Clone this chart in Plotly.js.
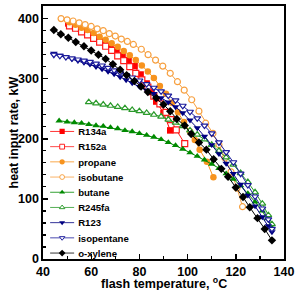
<!DOCTYPE html>
<html><head><meta charset="utf-8">
<script src="https://cdn.plot.ly/plotly-3.0.1.min.js"></script>
<style>html,body{margin:0;padding:0;background:#fff}#c{width:298px;height:290px}</style>
</head><body><div id="c"></div>
<script>
// Flash temperature (°C) and heat input rate (kW) for each working fluid
const r134a_T = [50.5,53,55.5,58,60.5,63,65.5,68,70.5,73,75.5,78,80.5,83,85,87,90,92.8];
const r134a_Q = [392,388,384,379,374,368,362,355,347,339,331,321,307,292,278,262,243,214];
const r152a_T = [51,53.5,56,58.5,61,63.5,66,68.5,71,73.5,76,78.5,81,83.5,86,88.5,91,93,95.3,98.8];
const r152a_Q = [388,384,378,373,367,361,354,347,338,330,320,309,298,286,271,258,244,232,215,192];
const propane_T = [51,53.5,56,58.5,61,63.5,66,68.5,71,73.5,76,78.5,81,83.5,86,88.5,91,93.5,96,98.5,101,103,105,108,110.7];
const propane_Q = [394,390,385,381,376,370,365,359,353,346,339,331,322,312,301,288,275,260,244,228,212,198,182,162,136];
const isobutane_T = [47.5,50,52.5,55,57.5,60,62.5,65,67.5,70,72.5,75,77.5,80.8,83.6,86.7,89.7,92.8,95.8,98.6,101.7,104.7,107.5,110.5,113,115.5,118,120.5,122.8];
const isobutane_Q = [400,398,396,393,390,387,383,380,375,371,366,362,357,349,340,331,321,309,295,281,265,246,226,209,190,168,145,118,87];
const butane_T = [46.7,50,53,56,59,62,65,68,71,74,77,80,83,86,89,92,95,98,101,104,107,110,113,116,119,122,125,128,131,133,135];
const butane_Q = [230,228,227,226,224,222,221,219,217,214,212,209,206,203,199,194,189,183,177,171,165,158,151,142,133,122,109,95,80,67,52];
const r245fa_T = [59,62,65,68,71,74,77,80,83,86,89,92,95,98,101,104,107,110,113,116,119,122,125,128,131,133.5,135];
const r245fa_Q = [261,259,257,255,253,251,248,246,243,240,237,232,227,221,214,207,199,190,180,169,157,143,128,111,92,73,58];
const r123_T = [44.5,47,49.5,52,54.5,57,59.5,62,64.5,67,69.5,72,74.5,77,80,83,86,89,92,95,98,101,104,107,110,113,116,119,122,125,128,131,133.5,135];
const r123_Q = [342,339,336,333,330,327,324,320,316,312,308,303,298,293,287,281,275,268,261,253,243,231,218,204,190,175,159,142,124,106,88,70,55,45];
const isopentane_T = [44.5,47,49.5,52,54.5,57,59.5,62,64.5,67,69.5,72,74.5,77,80,83,86,89,92,95,98,101,104,107,110,113,116,119,122,125,128,131,133.5,135];
const isopentane_Q = [340,338,336,334,332,330,328,325,322,318,314,310,306,302,297,291,285,279,272,264,255,245,234,222,209,194,178,161,142,123,104,84,66,50];
const oxylene_T = [44.5,47.4,50.5,53.6,57,60,63,66,69,72,74.7,77.9,80.7,83.5,87,90,92.8,95.5,98.8,101.5,104.7,107.8,110.8,114,116.8,120,123,125.8,129,132,135];
const oxylene_Q = [381,374,368,361,354,347,340,333,324,315,306,296,287,278,268,257,246,233,222,208,194,182,166,150,137,119,103,86,68,50,31];

const xTicks = [40,60,80,100,120,140];
const yTicks = [0,100,200,300,400];
const xTitle = 'flash temperature, <sup>o</sup>C';
const yTitle = 'heat input rate, kW';

const FONT = 'Arial, "Liberation Sans", sans-serif';
function tr(name, x, y, color, symbol, open) {
  return {
    type: 'scatter', mode: 'lines+markers', name: name, x: x, y: y,
    line: {color: color, width: 1},
    marker: {symbol: symbol, size: open ? 6 : 6.5, color: open ? '#ffffff' : color,
             line: {color: color, width: open ? 1.2 : 0}}
  };
}
const data = [
  tr('R134a', r134a_T, r134a_Q, '#ff0000', 'square', false),
  tr('R152a', r152a_T, r152a_Q, '#ff1a1a', 'square', true),
  tr('propane', propane_T, propane_Q, '#f7931e', 'circle', false),
  tr('isobutane', isobutane_T, isobutane_Q, '#f7a040', 'circle', true),
  tr('butane', butane_T, butane_Q, '#008a00', 'triangle-up', false),
  tr('R245fa', r245fa_T, r245fa_Q, '#2a9a2a', 'triangle-up', true),
  tr('R123', r123_T, r123_Q, '#000080', 'triangle-down', false),
  tr('isopentane', isopentane_T, isopentane_Q, '#1c1c9c', 'triangle-down', true),
  tr('o-xylene', oxylene_T, oxylene_Q, '#000000', 'diamond', false)
];

const axisCommon = {
  showgrid: false, zeroline: false, showline: true, linecolor: '#000', linewidth: 1.6,
  mirror: true, ticks: 'inside', ticklen: 5, tickwidth: 1.4, tickcolor: '#000',
  tickfont: {family: FONT, size: 12.5, color: '#000', weight: 'bold'}
};
const titleFont = {family: FONT, size: 12.5, color: '#000', weight: 'bold'};
const layout = {
  width: 298, height: 290,
  margin: {l: 43, r: 14, t: 6, b: 31, autoexpand: false},
  paper_bgcolor: '#fff', plot_bgcolor: '#fff',
  showlegend: true,
  legend: {x: 0.013, xanchor: 'left', y: 0.550, yanchor: 'top', bgcolor: 'rgba(0,0,0,0)',
           borderwidth: 0, itemwidth: 30, maxheight: 600,
           font: {family: FONT, size: 12, color: '#000', weight: 'bold'}},
  xaxis: Object.assign({}, axisCommon, {
    range: [40, 140], tickvals: xTicks, ticktext: xTicks.map(String),
    minor: {dtick: 10, ticks: 'inside', ticklen: 3, tickwidth: 1.2, tickcolor: '#000'}
  }),
  yaxis: Object.assign({}, axisCommon, {
    range: [0, 421], tickvals: yTicks, ticktext: yTicks.map(String),
    minor: {dtick: 20, ticks: 'inside', ticklen: 3, tickwidth: 1.2, tickcolor: '#000'}
  }),
  annotations: [
    {text: xTitle, xref: 'paper', yref: 'paper', x: 0.5, y: 0, xanchor: 'center', yanchor: 'top',
     yshift: -14, showarrow: false, font: titleFont},
    {text: yTitle, xref: 'paper', yref: 'paper', x: 0, y: 0.5, xanchor: 'center', yanchor: 'middle',
     xshift: -30, textangle: -90, showarrow: false, font: titleFont}
  ]
};
Plotly.newPlot('c', data, layout, {displayModeBar: false, staticPlot: true}).then(function(gd){
  const lg = gd.querySelector('g.legend');
  if (lg) {
    const t = lg.getAttribute('transform') || '';
    lg.setAttribute('transform', t + ' scale(0.8)');
  }
});
</script></body></html>
